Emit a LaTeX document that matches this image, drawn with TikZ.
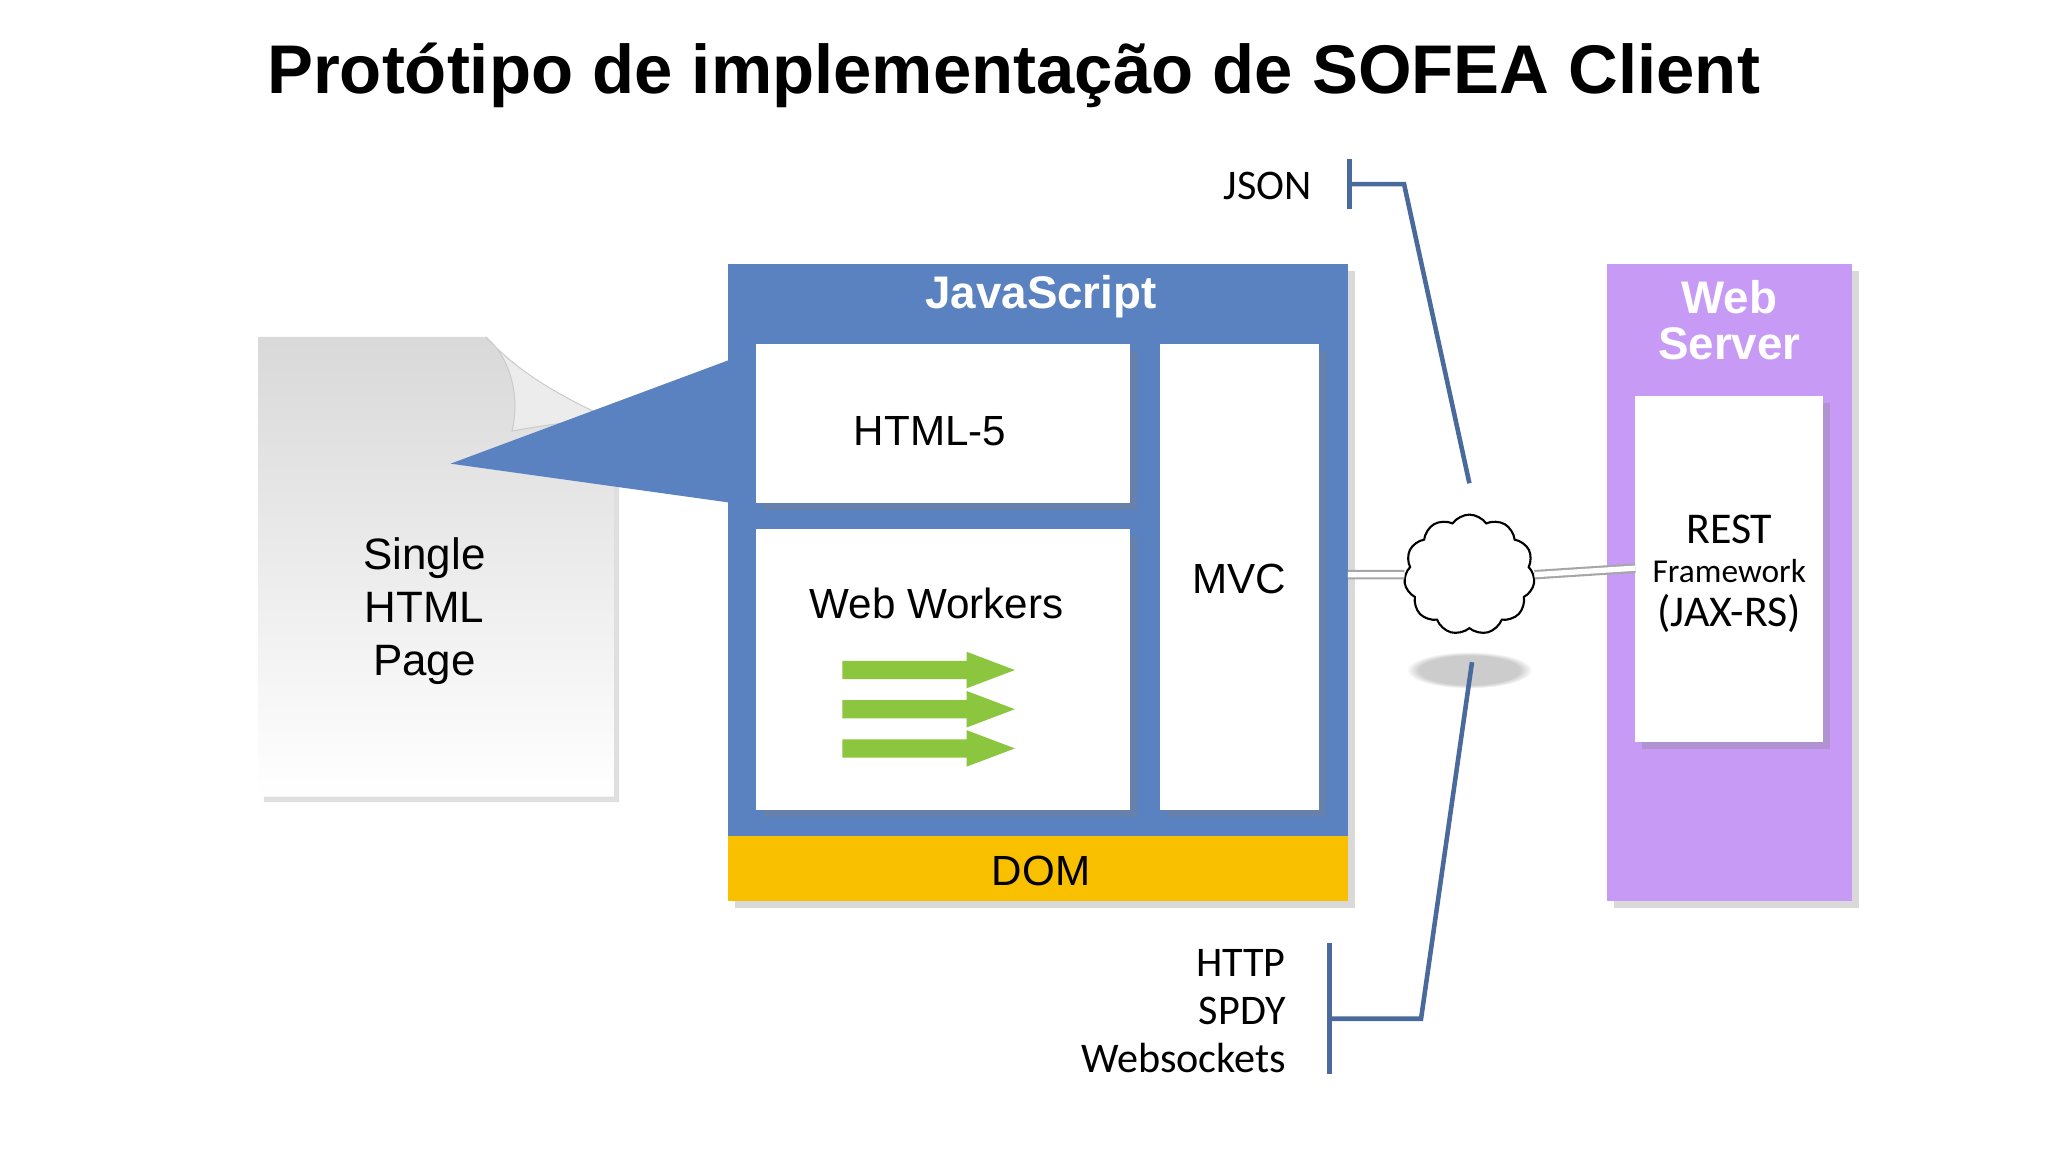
\documentclass[tikz,border=0pt]{standalone}
\usepackage{fontspec}
\setmainfont{Liberation Sans}
\newfontfamily\carl{Carlito}
\usetikzlibrary{shapes.symbols,shadows,fadings}
\definecolor{jsblue}{HTML}{5B82C0}
\definecolor{domyel}{HTML}{F9C000}
\definecolor{wspurp}{HTML}{C79BF5}
\definecolor{wgreen}{HTML}{8CC63F}
\definecolor{linkblue}{HTML}{4A6A9C}
\tikzset{
  wbox/.style={fill=white, drop shadow={shadow xshift=2pt,shadow yshift=-2pt,opacity=0.3}},
  lbl/.style={font=\carl\fontsize{12}{14}\selectfont, inner sep=0pt},
  btxt/.style={font=\fontsize{12}{14}\selectfont, inner sep=0pt, align=center},
  ttl/.style={font=\bfseries\fontsize{13}{15}\selectfont, text=white, inner sep=0pt, align=center},
  link/.style={linkblue, line width=1.3pt},
  dbl/.style={double=white, draw=gray!70, double distance=1.5pt, line width=0.6pt},
  garrow/.style={fill=wgreen, draw=none}
}
\begin{document}
\begin{tikzpicture}[x=0.013061cm,y=-0.013061cm]
\useasboundingbox (0,0) rectangle (1568,882);
\node[font=\bfseries\fontsize{19.6}{23}\selectfont] (title) at (776,58) {Protótipo de implementação de SOFEA Client};
% page
\path[top color=gray!30,bottom color=white, drop shadow={shadow xshift=1.5pt,shadow yshift=-1.5pt,opacity=0.25}]
  (198,258) -- (372,258) .. controls (390,280) and (410,300) .. (470,322) -- (470,610) -- (198,610) -- cycle;
\path[fill=gray!15, draw=gray!40, line width=0.3pt] (372,258) .. controls (392,275) and (398,305) .. (392,330) .. controls (420,325) and (440,322) .. (470,322) .. controls (420,300) and (392,280) .. (372,258);
\node[btxt, font=\fontsize{12.5}{14}\selectfont, align=center] (page) at (325,468) {Single\\[1pt]HTML\\[1pt]Page};
% JS box
\fill[jsblue, drop shadow={shadow xshift=2pt,shadow yshift=-2pt,opacity=0.3}] (557,202) rectangle (1032,690);
\fill[domyel] (557,640) rectangle (1032,690);
\fill[jsblue] (345,355) -- (560,275) -- (560,385) -- cycle;
\node[ttl] (js) at (797,227) {JavaScript};
\node[btxt] (dom) at (797,667) {DOM};
\path[wbox] (579,263) rectangle (865,385);
\path[wbox] (579,405) rectangle (865,620);
\path[wbox] (888,263) rectangle (1010,620);
\node[btxt] (html) at (712,330) {HTML-5};
\node[btxt] (ww) at (717,462) {Web Workers};
\node[btxt] (mvc) at (949,443) {MVC};
\foreach \yy in {513,543,573}{
  \fill[garrow] (645,\yy-7) -- (740,\yy-7) -- (740,\yy-14) -- (777,\yy) -- (740,\yy+14) -- (740,\yy+7) -- (645,\yy+7) -- cycle;
}
% Web server
\fill[wspurp, drop shadow={shadow xshift=2pt,shadow yshift=-2pt,opacity=0.3}] (1230,202) rectangle (1418,690);
\node[ttl] (wst) at (1324,245) {Web\\[-2pt]Server};
\path[wbox] (1252,303) rectangle (1396,568);
\node[btxt, font=\carl\fontsize{12.5}{14}\selectfont] (rest) at (1324,405) {REST};
\node[btxt, font=\carl\fontsize{9.5}{11}\selectfont] (fw) at (1324,437) {Framework};
\node[btxt, font=\carl\fontsize{12.5}{14}\selectfont] (jax) at (1324,470) {(JAX-RS)};
% cloud
\fill[gray!40, path fading=circle with fuzzy edge 20 percent] (1125,513) ellipse (48 and 14);
\node[cloud, cloud puffs=11, cloud puff arc=110, draw, fill=white, line width=0.6pt, minimum width=100*0.013061cm, minimum height=92*0.013061cm, aspect=1.1] (cl) at (1125,440) {};
\coordinate (jsr) at (1032,440);
\coordinate (wsl) at (1252,435);
\draw[dbl] (jsr) -- (cl.west);
\draw[dbl] (cl.east) -- (wsl);
% JSON
\node[lbl, anchor=east] (json) at (1005,142) {JSON};
\coordinate (b1t) at (1033,122); \coordinate (b1b) at (1033,160);
\coordinate (b1m) at (1033,141); \coordinate (b1k) at (1075,141);
\coordinate (b1e) at (1125,370);
\draw[link] (b1t) -- (b1b);
\draw[link] (b1m) -- (b1k) -- (b1e);
% bottom
\node[lbl, anchor=east] (http) at (985,737) {HTTP};
\node[lbl, anchor=east] (spdy) at (985,774) {SPDY};
\node[lbl, anchor=east] (wsk) at (985,810) {Websockets};
\coordinate (b2t) at (1018,722); \coordinate (b2b) at (1018,822);
\coordinate (b2m) at (1018,780); \coordinate (b2k) at (1088,780);
\coordinate (b2e) at (1127,507);
\draw[link] (b2t) -- (b2b);
\draw[link] (b2m) -- (b2k) -- (b2e);
\end{tikzpicture}
\end{document}
